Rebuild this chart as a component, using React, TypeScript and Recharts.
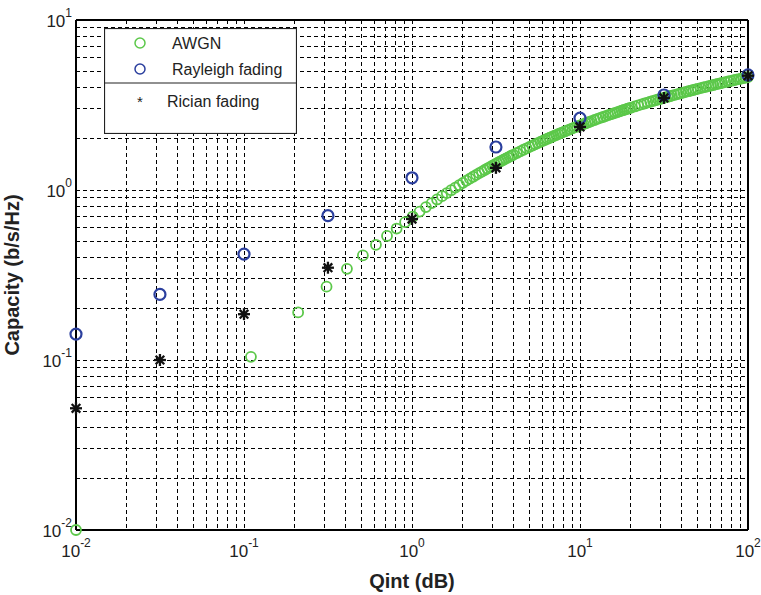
import {
  ScatterChart,
  Scatter,
  XAxis,
  YAxis,
  CartesianGrid,
  ReferenceLine,
} from 'recharts';

const qint = [0.01, 0.0316, 0.1, 0.316, 1, 3.16, 10, 31.6, 100];
const rayleigh = [0.142, 0.243, 0.42, 0.706, 1.18, 1.79, 2.65, 3.62, 4.75];
const rician = [0.052, 0.1, 0.186, 0.349, 0.675, 1.35, 2.35, 3.48, 4.7];

const awgnX = [
  0.01, 0.11, 0.21, 0.31, 0.41, 0.51, 0.61, 0.71, 0.81, 0.91, 1.01, 1.11, 1.21, 1.31, 1.41,
  1.51, 1.61, 1.71, 1.81, 1.91, 2.01, 2.11, 2.21, 2.31, 2.41, 2.51, 2.61, 2.71, 2.81, 2.91,
  3.01, 3.11, 3.21, 3.31, 3.41, 3.51, 3.61, 3.71, 3.81, 3.91,
  4.01, 4.21, 4.41, 4.61, 4.81, 5.01, 5.21, 5.41, 5.61, 5.81, 6.01, 6.21, 6.41, 6.61, 6.81,
  7.01, 7.21, 7.41, 7.61, 7.81,
  8.11, 8.41, 8.71, 9.01, 9.31, 9.61, 9.91, 10.21, 10.51, 10.81, 11.11, 11.41, 11.71,
  12.21, 12.71, 13.21, 13.71, 14.21, 14.71, 15.21, 15.71, 16.21, 16.71, 17.21, 17.71, 18.21,
  18.71, 19.21, 19.71, 20.21,
  21.21, 22.21, 23.21, 24.21, 25.21, 26.21, 27.21, 28.21, 29.21, 30.21, 31.21, 32.21, 33.21,
  34.21, 35.21,
  36.71, 38.21, 39.71, 41.21, 42.71, 44.21, 45.71, 47.21, 48.71, 50.21,
  52.21, 54.21, 56.21, 58.21, 60.21, 62.21, 64.21, 66.21, 68.21, 70.21,
  73.21, 76.21, 79.21, 82.21, 85.21, 88.21, 91.21, 94.21, 97.21, 99.91,
];
const awgnY = [
  0.01, 0.1044, 0.1906, 0.27, 0.3436, 0.4121, 0.4762, 0.5365, 0.5933, 0.6471, 0.6981,
  0.7467, 0.793, 0.8372, 0.8796, 0.9203, 0.9594, 0.997, 1.0332, 1.0682, 1.1019, 1.1346,
  1.1663, 1.197, 1.2267, 1.2556, 1.2837, 1.311, 1.3376, 1.3635,
  1.3888, 1.4134, 1.4375, 1.4609, 1.4839, 1.5063, 1.5282, 1.5497, 1.5707, 1.5913,
  1.6114, 1.6506, 1.6882, 1.7246, 1.7596, 1.7934, 1.8262, 1.8579, 1.8886, 1.9184, 1.9473,
  1.9755, 2.0028, 2.0295, 2.0554,
  2.0807, 2.1054, 2.1294, 2.1529, 2.1759,
  2.2094, 2.2418, 2.2732, 2.3036, 2.3331, 2.3618, 2.3897, 2.4168, 2.4432, 2.469, 2.494,
  2.5185, 2.5424,
  2.581, 2.6181, 2.6539, 2.6885, 2.722, 2.7543, 2.7856, 2.816, 2.8455, 2.8741, 2.902,
  2.9291, 2.9554, 2.9811, 3.0062,
  3.0306, 3.0545,
  3.1005, 3.1446, 3.1868, 3.2272, 3.2661, 3.3036, 3.3397, 3.3745, 3.4082, 3.4407, 3.4723,
  3.5029, 3.5325, 3.5613, 3.5893,
  3.6299, 3.6689, 3.7065, 3.7427, 3.7776, 3.8113, 3.844, 3.8756, 3.9062, 3.9359,
  3.9742, 4.0111, 4.0467, 4.0811, 4.1143, 4.1465, 4.1776, 4.2078, 4.2372, 4.2656,
  4.3069, 4.3465, 4.3847, 4.4214, 4.4568, 4.491, 4.5241, 4.5561, 4.5871, 4.6142,
];

const xTicks = [
  0.01, 0.02, 0.03, 0.04, 0.05, 0.06, 0.07, 0.08, 0.09,
  0.1, 0.2, 0.3, 0.4, 0.5, 0.6, 0.7, 0.8, 0.9,
  1, 2, 3, 4, 5, 6, 7, 8, 9,
  10, 20, 30, 40, 50, 60, 70, 80, 90, 100,
];
const yTicks = [
  0.01, 0.02, 0.03, 0.04, 0.05, 0.06, 0.07, 0.08, 0.09,
  0.1, 0.2, 0.3, 0.4, 0.5, 0.6, 0.7, 0.8, 0.9,
  1, 2, 3, 4, 5, 6, 7, 8, 9, 10,
];

const awgnData = awgnX.map((x, i) => ({ x, y: awgnY[i] }));
const rayleighData = qint.map((x, i) => ({ x, y: rayleigh[i] }));
const ricianData = qint.map((x, i) => ({ x, y: rician[i] }));

const GREEN = '#5cc84a';
const BLUE = '#2b3f9e';
const FONT = '"Liberation Sans", Arial, sans-serif';

function decadeExp(v: number): number | null {
  const e = Math.round(Math.log10(v));
  return Math.abs(v - Math.pow(10, e)) < 1e-9 * Math.pow(10, e) ? e : null;
}

function XTick(props: any) {
  const { x, y, payload } = props;
  const e = decadeExp(payload.value);
  if (e === null) return null;
  return (
    <text x={x} y={y + 27} textAnchor="middle" fontSize={17} fill="#222" fontFamily={FONT}>
      <tspan>10</tspan>
      <tspan dy={-10} fontSize={12}>{e}</tspan>
    </text>
  );
}

function YTick(props: any) {
  const { x, y, payload } = props;
  const e = decadeExp(payload.value);
  if (e === null) return null;
  return (
    <text x={x - 4} y={y + 7} textAnchor="end" fontSize={17} fill="#222" fontFamily={FONT}>
      <tspan>10</tspan>
      <tspan dy={-10} fontSize={12}>{e}</tspan>
    </text>
  );
}

const GreenCircle = (p: any) => (
  <circle cx={p.cx} cy={p.cy} r={5} fill="none" stroke={GREEN} strokeWidth={1.8} />
);
const BlueCircle = (p: any) => (
  <circle cx={p.cx} cy={p.cy} r={5.5} fill="none" stroke={BLUE} strokeWidth={2.2} />
);
const Star = (p: any) => {
  const { cx, cy } = p;
  const d = 4.3;
  return (
    <g stroke="#111" strokeWidth={2.3}>
      <line x1={cx - 6} y1={cy} x2={cx + 6} y2={cy} />
      <line x1={cx} y1={cy - 6} x2={cx} y2={cy + 6} />
      <line x1={cx - d} y1={cy - d} x2={cx + d} y2={cy + d} />
      <line x1={cx - d} y1={cy + d} x2={cx + d} y2={cy - d} />
    </g>
  );
};

function LegendBox() {
  return (
    <svg width={193} height={106} style={{ display: 'block' }}>
      <rect x={0.5} y={0.5} width={192} height={105} fill="#fff" stroke="#222" strokeWidth={1.2} />
      <line x1={0} y1={55} x2={193} y2={55} stroke="#222" strokeWidth={1.2} />
      <circle cx={36} cy={15} r={5} fill="none" stroke={GREEN} strokeWidth={1.5} />
      <text x={68} y={21} fontSize={16} fontFamily={FONT} fill="#222">AWGN</text>
      <circle cx={36} cy={41} r={5} fill="none" stroke={BLUE} strokeWidth={1.5} />
      <text x={68} y={47} fontSize={16} fontFamily={FONT} fill="#222">Rayleigh fading</text>
      <text x={36} y={79} fontSize={15} fontFamily={FONT} fill="#222" textAnchor="middle">*</text>
      <text x={63} y={79} fontSize={16} fontFamily={FONT} fill="#222">Rician fading</text>
    </svg>
  );
}

export default function App() {
  return (
    <div style={{ position: 'absolute', left: 0, top: 0, width: 761, height: 595, background: '#fff' }}>
      <ScatterChart width={761} height={595} margin={{ top: 20, right: 13, bottom: 0, left: 0 }}>
        <CartesianGrid stroke="#000" strokeWidth={1} strokeDasharray="4 3" shapeRendering="crispEdges" />
        <XAxis
          dataKey="x"
          type="number"
          scale="log"
          domain={[0.01, 100]}
          ticks={xTicks}
          interval={0}
          height={65}
          tickLine={false}
          tickSize={0}
          tickMargin={0}
          axisLine={{ stroke: '#000', strokeWidth: 2 }}
          tick={<XTick />}
          label={{
            value: 'Qint (dB)',
            position: 'insideBottom',
            offset: 7,
            style: { fontSize: 20, fontWeight: 'bold', fill: '#222', fontFamily: FONT },
          }}
        />
        <YAxis
          dataKey="y"
          type="number"
          scale="log"
          domain={[0.01, 10]}
          ticks={yTicks}
          interval={0}
          width={76}
          tickLine={false}
          tickSize={0}
          tickMargin={0}
          axisLine={{ stroke: '#000', strokeWidth: 2 }}
          tick={<YTick />}
          label={{
            value: 'Capacity (b/s/Hz)',
            angle: -90,
            position: 'insideLeft',
            offset: 12,
            style: { fontSize: 20, fontWeight: 'bold', fill: '#222', fontFamily: FONT, textAnchor: 'middle' },
          }}
        />
        <ReferenceLine y={10} stroke="#000" strokeWidth={2} />
        <ReferenceLine x={100} stroke="#000" strokeWidth={2} />
        <Scatter name="AWGN" data={awgnData} shape={GreenCircle} isAnimationActive={false} />
        <Scatter name="Rayleigh fading" data={rayleighData} shape={BlueCircle} isAnimationActive={false} />
        <Scatter name="Rician fading" data={ricianData} shape={Star} isAnimationActive={false} />
      </ScatterChart>
      <div style={{ position: 'absolute', left: 104, top: 28 }}>
        <LegendBox />
      </div>
    </div>
  );
}
